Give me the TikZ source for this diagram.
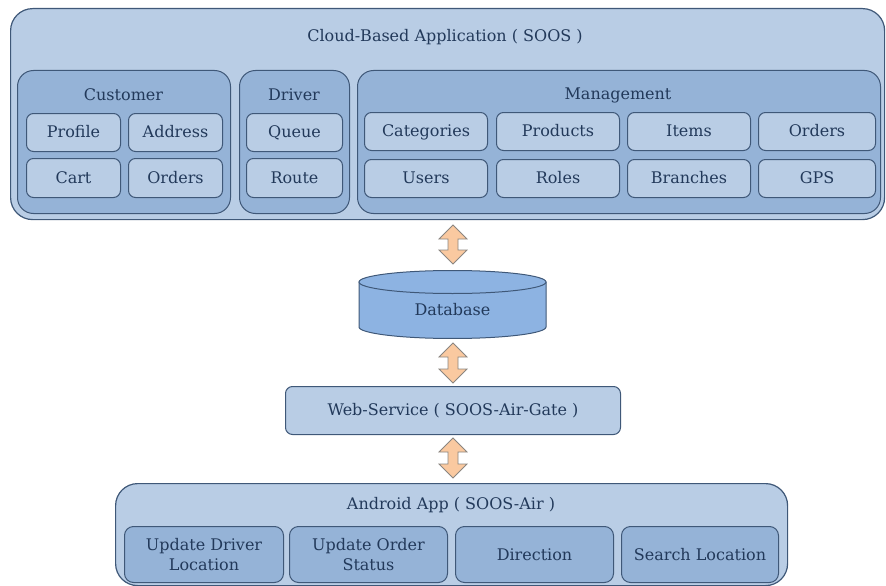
\documentclass[tikz,border=0pt]{standalone}
\usepackage{fontspec}
\setmainfont{DejaVu Serif}
\usetikzlibrary{calc}
\definecolor{boxfill}{HTML}{B9CDE5}
\definecolor{grpfill}{HTML}{95B3D7}
\definecolor{edgec}{HTML}{3F5878}
\definecolor{txt}{HTML}{22395A}
\definecolor{dbfill}{HTML}{8DB3E2}
\definecolor{arrfill}{HTML}{FAC9A0}
\definecolor{arredge}{HTML}{8A8580}
\newcommand\rbox[7]{\node[#2, minimum width={#5-#3}, minimum height={#6-#4}, anchor=north west, inner sep=0pt] (#1) at (#3,#4) {#7};}
\newcommand\dblarrow[2]{%
 \draw[arrstyle] (#1) -- ($(#1)+(14,14)$) -- ($(#1)+(5,14)$) -- ($(#2)+(5,-14)$) -- ($(#2)+(14,-14)$) -- (#2) -- ($(#2)+(-14,-14)$) -- ($(#2)+(-5,-14)$) -- ($(#1)+(-5,14)$) -- ($(#1)+(-14,14)$) -- cycle;}
\begin{document}
\begin{tikzpicture}[x=1pt,y=-1pt,
  txtfont/.style={text=txt, font=\fontsize{16}{20}\selectfont},
  outerbox/.style={draw=edgec, line width=1.2pt, fill=boxfill, rounded corners=22pt},
  grpbox/.style={draw=edgec, line width=1pt, fill=grpfill, rounded corners=16pt},
  itembox/.style={draw=edgec, line width=1pt, fill=boxfill, rounded corners=7pt, txtfont, text height=11.5pt, text depth=1.5pt},
  aitem/.style={draw=edgec, line width=1pt, fill=grpfill, rounded corners=9pt, txtfont, align=center},
  lbl/.style={txtfont, inner sep=0pt},
  arrstyle/.style={draw=arredge, line width=0.8pt, fill=arrfill, line join=miter}
]
\useasboundingbox (0,0) rectangle (886,586);
% cloud application
\rbox{cloud}{outerbox}{10}{8}{884}{219}{}
\node[lbl] (cloudt) at (445,37) {Cloud-Based Application ( SOOS )};
% customer
\rbox{cust}{grpbox}{17}{70}{230}{213}{}
\node[lbl] (custt) at (123.5,95) {Customer};
\rbox{profile}{itembox}{26}{113}{120}{151}{Profile}
\rbox{address}{itembox}{128}{113}{222}{151}{Address}
\rbox{cart}{itembox}{26}{158}{120}{197}{Cart}
\rbox{corders}{itembox}{128}{158}{222}{197}{Orders}
% driver
\rbox{driver}{grpbox}{239}{70}{349}{213}{}
\node[lbl] (drivert) at (294,95) {Driver};
\rbox{queue}{itembox}{246}{113}{342}{151}{Queue}
\rbox{route}{itembox}{246}{158}{342}{197}{Route}
% management
\rbox{mgmt}{grpbox}{357}{70}{880}{213}{}
\node[lbl] (mgmtt) at (618,95) {Management};
\rbox{categories}{itembox}{364}{112}{487}{150}{Categories}
\rbox{products}{itembox}{496}{112}{619}{150}{Products}
\rbox{items}{itembox}{627}{112}{750}{150}{Items}
\rbox{morders}{itembox}{758}{112}{875}{150}{Orders}
\rbox{users}{itembox}{364}{159}{487}{197}{Users}
\rbox{roles}{itembox}{496}{159}{619}{197}{Roles}
\rbox{branches}{itembox}{627}{159}{750}{197}{Branches}
\rbox{gps}{itembox}{758}{159}{875}{197}{GPS}
% database
\filldraw[draw=edgec, line width=1pt, fill=dbfill] (359,282) -- plot[domain=180:360, samples=60, variable=\t] ({452.5+93.5*cos(\t)}, {327-11.5*sin(\t)}) -- (546,282) -- cycle;
\filldraw[draw=edgec, line width=1pt, fill=dbfill] (452.5,282) ellipse [x radius=93.5, y radius=11.5];
\node[lbl] (db) at (452.5,310) {Database};
% web service
\rbox{web}{itembox}{285}{386}{620}{434}{Web-Service ( SOOS-Air-Gate )}
% android
\rbox{android}{outerbox}{115}{483}{787}{585}{}
\node[lbl] (androidt) at (451,505) {Android App ( SOOS-Air )};
\rbox{udl}{aitem}{124}{526}{283}{582}{Update Driver\\Location}
\rbox{uos}{aitem}{289}{526}{447}{582}{Update Order\\Status}
\rbox{dir}{aitem}{455}{526}{613}{582}{Direction}
\rbox{search}{aitem}{621}{526}{778}{582}{Search Location}
% arrows
\coordinate (a1t) at (453,225); \coordinate (a1b) at (453,264);
\coordinate (a2t) at (453,343); \coordinate (a2b) at (453,383);
\coordinate (a3t) at (453,438); \coordinate (a3b) at (453,478);
\dblarrow{a1t}{a1b}
\dblarrow{a2t}{a2b}
\dblarrow{a3t}{a3b}
\end{tikzpicture}
\end{document}
